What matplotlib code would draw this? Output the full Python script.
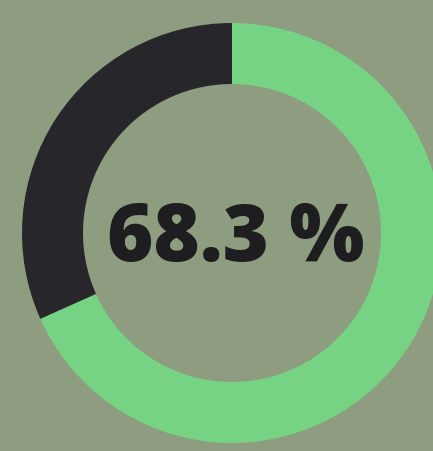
import matplotlib
matplotlib.use("Agg")
import matplotlib.pyplot as plt

labels = ["Achieved", "Remaining"]
values = [68.3, 31.7]
colors = ["#76D384", "#27262A"]
center_label = "68.3 %"

W, H = 433, 451
bg = "#8E9C7F"
fig = plt.figure(figsize=(W / 100, H / 100), dpi=100)
fig.patch.set_facecolor(bg)
ax = fig.add_axes([0, 0, 1, 1])
ax.set_facecolor(bg)

ax.pie(values, colors=colors, startangle=90, counterclock=False,
       center=(232, 218), radius=210,
       wedgeprops=dict(width=61, edgecolor="none"), frame=True)
ax.set_xlim(0, W)
ax.set_ylim(0, H)
ax.set_aspect("equal")
ax.axis("off")

ax.text(236, 211, center_label, ha="center", va="center",
        fontsize=57, fontweight="heavy", family="Open Sans", color="#1E1D1F")

fig.savefig("out.png", dpi=100, facecolor=fig.get_facecolor())
